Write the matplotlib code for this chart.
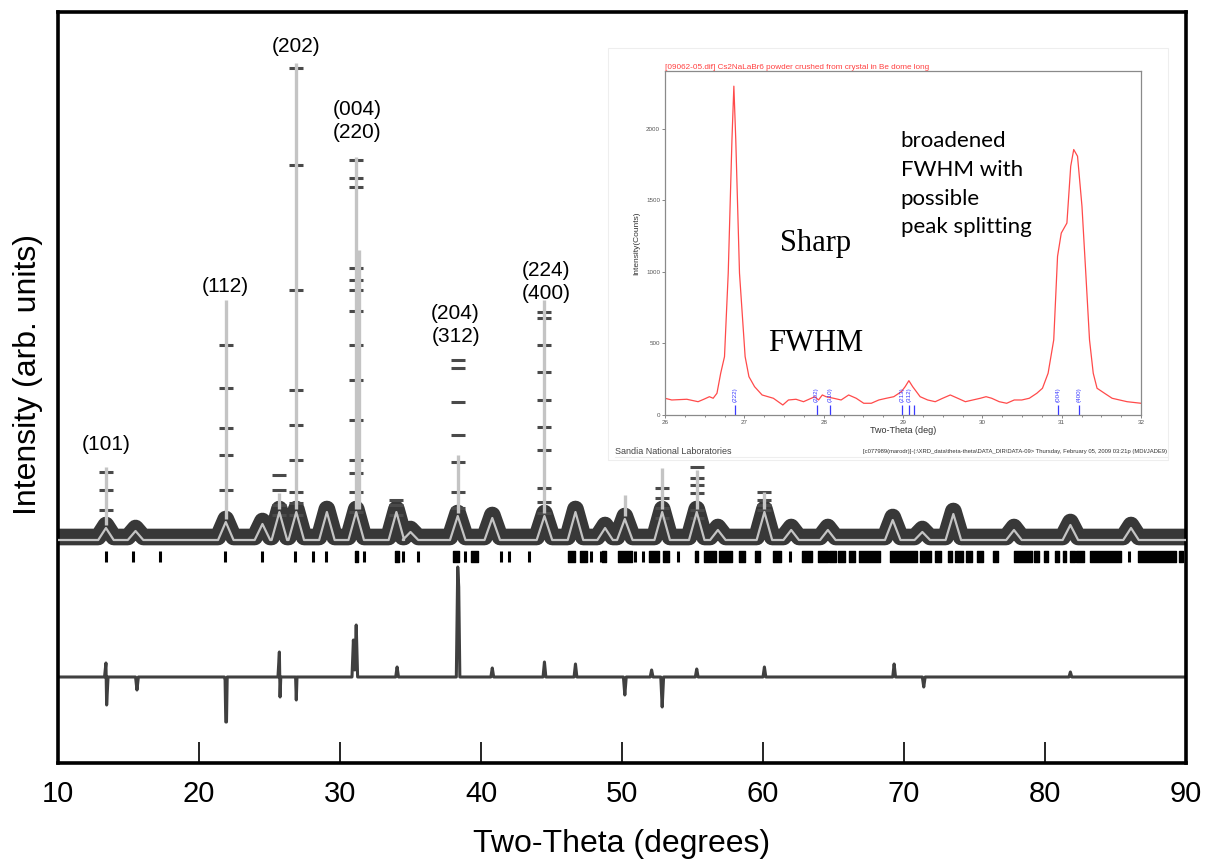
import matplotlib.pyplot as plt
from matplotlib.patches import Rectangle

plt.rcParams['font.family'] = ['Liberation Sans', 'DejaVu Sans']

# ---------------- main Rietveld pattern (arb. units) ----------------
bg_level = 228          # flat background of the pattern

# bumps of the observed/calculated profile: position (deg), height
bump_pos = [13.4, 15.5, 21.9, 24.5, 25.7, 26.9, 29.07, 31.15, 34.0, 35.0,
            38.35, 40.8, 44.5, 46.7, 48.8, 50.2, 52.85, 55.3, 56.8, 60.1,
            62.0, 64.6, 69.2, 71.3, 73.5, 77.8, 81.8, 86.1]
bump_h = [240, 237, 246, 244, 256, 256, 256, 256, 256, 236,
          252, 250, 252, 256, 240, 249, 256, 256, 238, 256,
          238, 238, 248, 236, 254, 238, 243, 240]

# sharp calculated peaks: position, top
spike_pos = [13.4, 21.9, 25.7, 26.9, 31.15, 31.35, 38.35, 44.5, 50.2, 52.85, 55.3, 60.1]
spike_top = [298, 465, 272, 702, 608, 515, 310, 465, 270, 297, 295, 273]

# observed points on the strong peaks
obs_x = [13.4] * 3 + [21.9] * 5 + [25.7] * 4 + [26.9] * 9 + [31.15] * 14 \
    + [34.0] * 3 + [38.35] * 7 + [44.5] * 10 + [52.85] * 4 + [55.3] * 6 + [60.1] * 4
obs_y = [293, 275, 255,
         420, 377, 337, 310, 275,
         290, 275, 260, 250,
         697, 600, 475, 375, 340, 305, 273, 262, 250,
         605, 587, 578, 497, 485, 475, 454, 420, 385, 345, 305, 292, 273, 253,
         265, 260, 250,
         405, 397, 363, 330, 303, 273, 257,
         453, 447, 420, 393, 365, 338, 315, 277, 263, 252,
         277, 267, 257, 247,
         298, 287, 280, 272, 255, 247,
         273, 265, 260, 255]

# reflection markers: single lines and dense groups (start, end)
refl_single = [13.4, 15.35, 17.2, 21.85, 24.5, 26.8, 28.1, 29.0, 31.7, 34.5,
               35.5, 38.9, 41.4, 42.0, 43.4, 47.8, 48.5, 50.95, 51.5, 54.0,
               61.95, 85.95]
refl_lo = [31.05, 33.9, 38.0, 39.3, 46.2, 47.0, 48.6, 49.7, 51.9, 52.9, 55.2,
           55.8, 56.9, 58.3, 59.4, 60.7, 62.8, 63.9, 64.7, 65.3, 66.1, 66.8,
           69.0, 71.1, 72.2, 73.1, 73.6, 74.4, 75.2, 76.3, 77.8, 79.2, 79.9,
           80.7, 81.3, 81.8, 82.2, 83.2, 86.6, 89.5]
refl_hi = [31.25, 34.15, 38.45, 39.8, 46.7, 47.5, 48.9, 50.7, 52.6, 53.3, 55.4,
           56.7, 57.8, 58.7, 59.8, 61.3, 63.5, 64.6, 65.2, 65.8, 66.5, 68.3,
           70.9, 71.9, 72.6, 73.4, 74.2, 74.8, 75.6, 76.7, 79.1, 79.6, 80.2,
           81.0, 81.5, 82.1, 82.8, 85.4, 89.3, 89.8]

# difference curve (obs - calc), offset
diff_x = [10, 13.3, 13.4, 13.45, 13.55, 15.5, 15.6, 15.7, 21.8, 21.85, 21.9, 21.95,
          22.0, 25.6, 25.7, 25.75, 25.8, 26.85, 26.9, 26.95, 30.85, 30.95, 31.05,
          31.15, 31.25, 33.95, 34.05, 34.15, 38.25, 38.35, 38.42, 38.5, 40.7, 40.8,
          40.9, 44.4, 44.5, 44.6, 46.6, 46.7, 46.8, 50.1, 50.2, 50.3, 52.0, 52.1,
          52.2, 52.75, 52.85, 52.95, 55.2, 55.3, 55.4, 60.0, 60.1, 60.2, 69.2, 69.3,
          69.4, 71.3, 71.4, 71.5, 81.7, 81.8, 81.9, 90]
diff_y = [88, 88, 102, 60, 88, 88, 75, 88, 88, 85, 43, 43,
          88, 88, 113, 68, 88, 88, 65, 88, 88, 125, 95,
          140, 88, 88, 98, 88, 88, 198, 178, 88, 88, 97,
          88, 88, 103, 88, 88, 101, 88, 88, 70, 88, 88, 95,
          88, 88, 58, 88, 88, 96, 88, 88, 98, 88, 88, 101,
          88, 88, 78, 88, 88, 93, 88, 88]

# hkl labels
hkl_text = ['(101)', '(112)', '(202)', '(004)\n(220)', '(204)\n(312)', '(224)\n(400)']
hkl_x = [13.4, 21.9, 26.9, 31.2, 38.2, 44.6]
hkl_y = [321, 478, 718, 644, 440, 483]

# ---------------- inset: lab diffractometer scan ----------------
inset_x = [26.0, 26.085, 26.275, 26.417, 26.489, 26.56, 26.607, 26.655, 26.702, 26.75,
           26.797, 26.844, 26.868, 26.892, 26.939, 27.01, 27.058, 27.129, 27.224, 27.366,
           27.485, 27.556, 27.651, 27.746, 27.888, 27.935, 27.983, 28.03, 28.125, 28.22,
           28.315, 28.41, 28.505, 28.6, 28.695, 28.79, 28.884, 28.979, 29.027, 29.074,
           29.122, 29.216, 29.311, 29.406, 29.5, 29.596, 29.69, 29.786, 29.88, 29.975,
           30.047, 30.118, 30.213, 30.307, 30.402, 30.497, 30.592, 30.687, 30.758, 30.829,
           30.9, 30.948, 30.995, 31.066, 31.114, 31.152, 31.2, 31.256, 31.304, 31.351,
           31.398, 31.446, 31.54, 31.636, 31.73, 31.825, 32.0]
inset_y = [117, 105, 110, 93, 110, 128, 117, 152, 292, 408,
           992, 1925, 2299, 1925, 992, 408, 268, 198, 140, 117,
           70, 105, 110, 93, 128, 105, 140, 128, 117, 105,
           140, 117, 82, 82, 105, 117, 128, 163, 198, 240,
           198, 128, 105, 93, 117, 140, 117, 93, 105, 117,
           128, 117, 93, 82, 105, 105, 117, 152, 187, 292,
           525, 1109, 1272, 1342, 1739, 1856, 1809, 1459, 992, 525,
           292, 187, 152, 117, 105, 93, 82]
inset_ref_pos = [26.88, 27.91, 28.08, 28.99, 29.08, 29.14, 30.95, 31.22]
inset_ref_lab = ['(222)', '(202)', '(310)', '(213)', '(312)', '', '(004)', '(400)']

W, H = 1207, 861
fig = plt.figure(figsize=(W / 100, H / 100), dpi=100)
ax = fig.add_axes([58 / W, (H - 763) / H, (1186 - 58) / W, (763 - 12) / H])

# profile of the observed band / calculated background
half = 0.55
prof_x, prof_y = [10], [bg_level]
for p, h in zip(bump_pos, bump_h):
    prof_x += [p - half, p, p + half]
    prof_y += [bg_level, h, bg_level]
prof_x.append(90)
prof_y.append(bg_level)

band_c = '#383838'
calc_c = '#c4c4c4'
ax.plot(prof_x, prof_y, color=band_c, lw=12, solid_joinstyle='round', zorder=2)
ax.plot(obs_x, obs_y, ls='none', marker='_', ms=10, mew=2.2, color='#4a4a4a', zorder=2)
base = [bump_h[bump_pos.index(p)] if p in bump_pos else 256 for p in spike_pos]
ax.vlines(spike_pos, base, spike_top, color=calc_c, lw=2.4, zorder=3)
ax.plot(prof_x, [y - 3 for y in prof_y], color=calc_c, lw=1.6, zorder=3)

# reflection markers
ax.vlines(refl_single, 203, 214, color='black', lw=2.2)
ax.broken_barh([(lo, hi - lo) for lo, hi in zip(refl_lo, refl_hi)], (203, 11),
               color='black')

ax.plot(diff_x, diff_y, color='#404040', lw=2.2, zorder=2)

for t, x, y in zip(hkl_text, hkl_x, hkl_y):
    ax.text(x, y, t, ha='center', va='center', fontsize=15, linespacing=1.25)

ax.set_xlim(10, 90)
ax.set_ylim(2, 753)
ax.set_xticks(range(10, 91, 10))
ax.set_yticks([])
ax.tick_params(axis='x', direction='in', length=15, width=1.2, labelsize=21, pad=12)
for s in ax.spines.values():
    s.set_linewidth(2.6)
ax.set_xlabel('Two-Theta (degrees)', fontsize=23)
ax.xaxis.set_label_coords(0.5, -0.088)
ax.set_ylabel('Intensity (arb. units)', fontsize=23)
ax.yaxis.set_label_coords(-0.013, 0.517)

# white pasted-image area for the inset
ax.add_patch(Rectangle((608 / W, (H - 460) / H), 560 / W, 412 / H, transform=fig.transFigure,
                       facecolor='white', edgecolor='#eeeeee', lw=0.8, zorder=5, clip_on=False))

ins = fig.add_axes([665 / W, (H - 415) / H, (1141 - 665) / W, (415 - 71) / H])
ins.plot(inset_x, inset_y, color='#ff4a4a', lw=0.9)
ins.vlines(inset_ref_pos, 0, 70, color='#3a3aff', lw=0.9)
for p, lab in zip(inset_ref_pos, inset_ref_lab):
    ins.text(p, 90, lab, rotation=90, ha='center', va='bottom', fontsize=4.5, color='#3a3aff')
ins.set_xlim(26, 32)
ins.set_ylim(0, 2405)
ins.set_xticks(range(26, 33))
ins.set_xticks([26 + 0.25 * i for i in range(25)], minor=True)
ins.set_yticks(range(0, 2001, 500))
ins.tick_params(labelsize=4.5, length=2, width=0.5, colors='#555555', pad=1.5)
ins.tick_params(which='minor', length=1.5, width=0.5, colors='#555555')
for s in ins.spines.values():
    s.set_linewidth(0.9)
    s.set_color('#8a8a8a')
ins.set_xlabel('Two-Theta (deg)', fontsize=6.5, labelpad=1, color='#333333')
ins.set_ylabel('Intensity(Counts)', fontsize=6, labelpad=4, color='#333333')
ins.set_title('[09062-05.dif] Cs2NaLaBr6 powder crushed from crystal in Be dome long',
              fontsize=5.9, color='#ff4040', loc='left', pad=1.5)
ins.text(27.9, 1200, 'Sharp', fontsize=22, ha='center', va='center', family='Liberation Serif')
ins.text(27.9, 500, 'FWHM', fontsize=22, ha='center', va='center', family='Liberation Serif')
ins.text(28.97, 1985, 'broadened\nFWHM with\npossible\npeak splitting', fontsize=16,
         ha='left', va='top', linespacing=1.55, family=['Lato', 'DejaVu Sans'])

fig.text(615 / W, 1 - 452 / H, 'Sandia National Laboratories', fontsize=6.5,
         color='#444444', va='center')
fig.text(1167 / W, 1 - 452 / H,
         '[c077989(marodr)]-(:\\XRD_data\\theta-theta\\DATA_DIR\\DATA-09> Thursday, '
         'February 05, 2009 03:21p (MDI/JADE9)', fontsize=4.2, color='#333333',
         ha='right', va='center')
fig.add_artist(plt.Line2D([615 / W, 1168 / W], [1 - 457 / H] * 2, color='#eeeeee', lw=0.8))

fig.savefig('out.png', dpi=100)
